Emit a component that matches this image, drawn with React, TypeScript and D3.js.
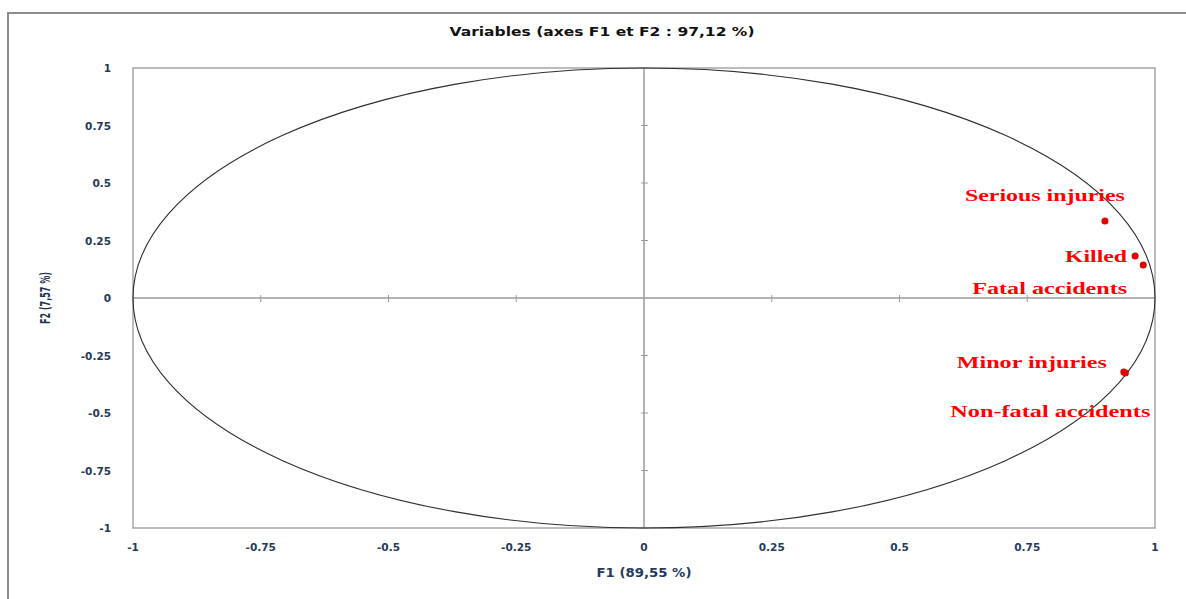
import React, { useEffect, useRef } from "react";
import * as d3 from "d3";

// variables projected on F1 / F2
const variables = ["Serious injuries", "Killed", "Fatal accidents", "Minor injuries", "Non-fatal accidents"];
const f1Values = [0.902, 0.961, 0.977, 0.939, 0.942];
const f2Values = [0.335, 0.183, 0.143, -0.322, -0.326];

// label placement relative to the point (px) and stretched widths
const labelDx = [20, -8, -16, -17, 25];
const labelDy = [-26, 0, 23, -10, 38];
const labelWidths = [160, 62, 155, 150, 200];

const xTicks = [-1, -0.75, -0.5, -0.25, 0, 0.25, 0.5, 0.75, 1];
const yTicks = [-1, -0.75, -0.5, -0.25, 0, 0.25, 0.5, 0.75, 1];

const title = "Variables (axes F1 et F2 : 97,12 %)";
const xTitle = "F1 (89,55 %)";
const yTitle = "F2 (7,57 %)";

export default function App() {
  const ref = useRef<SVGSVGElement>(null);

  useEffect(() => {
    const W = 1186, H = 599;
    const plot = { left: 133, right: 1155, top: 68, bottom: 528 };
    const svg = d3.select(ref.current);
    svg.selectAll("*").remove();

    const x = d3.scaleLinear().domain([-1, 1]).range([plot.left, plot.right]);
    const y = d3.scaleLinear().domain([-1, 1]).range([plot.bottom, plot.top]);

    svg.append("rect").attr("width", W).attr("height", H).attr("fill", "#fff");

    // outer frame (left and top only)
    svg.append("path")
      .attr("d", `M8,${H} L8,13 L${W},13`)
      .attr("fill", "none")
      .attr("stroke", "#8c8c8c")
      .attr("stroke-width", 2);

    // title
    svg.append("text")
      .attr("x", 602).attr("y", 36)
      .attr("text-anchor", "middle")
      .attr("font-family", "DejaVu Sans")
      .attr("font-weight", "bold")
      .attr("font-size", 13)
      .attr("fill", "#111")
      .attr("textLength", 305)
      .attr("lengthAdjust", "spacingAndGlyphs")
      .text(title);

    // plot area box
    svg.append("rect")
      .attr("x", plot.left).attr("y", plot.top)
      .attr("width", plot.right - plot.left).attr("height", plot.bottom - plot.top)
      .attr("fill", "none")
      .attr("stroke", "#a6a6a6")
      .attr("stroke-width", 1.5);

    // center axes
    svg.append("line")
      .attr("x1", x(-1)).attr("x2", x(1)).attr("y1", y(0)).attr("y2", y(0))
      .attr("stroke", "#9a9a9a").attr("stroke-width", 1.5);
    svg.append("line")
      .attr("x1", x(0)).attr("x2", x(0)).attr("y1", y(-1)).attr("y2", y(1))
      .attr("stroke", "#9a9a9a").attr("stroke-width", 1.5);

    // ticks crossing the center axes
    svg.append("g").selectAll("line").data(xTicks.filter(d => d !== 0)).join("line")
      .attr("x1", d => x(d)).attr("x2", d => x(d))
      .attr("y1", y(0) - 3).attr("y2", y(0) + 4)
      .attr("stroke", "#9a9a9a").attr("stroke-width", 1);
    svg.append("g").selectAll("line").data(yTicks.filter(d => d !== 0)).join("line")
      .attr("y1", d => y(d)).attr("y2", d => y(d))
      .attr("x1", x(0) - 3).attr("x2", x(0) + 4)
      .attr("stroke", "#9a9a9a").attr("stroke-width", 1);

    // correlation circle
    svg.append("ellipse")
      .attr("cx", x(0)).attr("cy", y(0))
      .attr("rx", x(1) - x(0)).attr("ry", y(0) - y(1))
      .attr("fill", "none")
      .attr("stroke", "#2e2e2e")
      .attr("stroke-width", 1.1);

    // tick labels
    const fmt = (d: number) => String(d);
    svg.append("g").selectAll("text").data(xTicks).join("text")
      .attr("x", d => x(d)).attr("y", 551)
      .attr("text-anchor", "middle")
      .attr("font-family", "DejaVu Sans").attr("font-weight", "bold")
      .attr("font-size", 10.5).attr("fill", "#233a5c")
      .text(fmt);
    svg.append("g").selectAll("text").data(yTicks).join("text")
      .attr("x", 111).attr("y", d => y(d) + 4)
      .attr("text-anchor", "end")
      .attr("font-family", "DejaVu Sans").attr("font-weight", "bold")
      .attr("font-size", 10.5).attr("fill", "#233a5c")
      .text(fmt);

    // axis titles
    svg.append("text")
      .attr("x", 644).attr("y", 577)
      .attr("text-anchor", "middle")
      .attr("font-family", "DejaVu Sans").attr("font-weight", "bold")
      .attr("font-size", 11.5).attr("fill", "#233a5c")
      .attr("textLength", 95).attr("lengthAdjust", "spacingAndGlyphs")
      .text(xTitle);
    svg.append("text")
      .attr("transform", `translate(50,${y(0)}) rotate(-90)`)
      .attr("text-anchor", "middle")
      .attr("font-family", "DejaVu Sans").attr("font-weight", "bold")
      .attr("font-size", 14).attr("fill", "#1e3352")
      .attr("textLength", 52).attr("lengthAdjust", "spacingAndGlyphs")
      .text(yTitle);

    // points
    const pts = variables.map((name, i) => ({ name, f1: f1Values[i], f2: f2Values[i], i }));
    svg.append("g").selectAll("circle").data(pts).join("circle")
      .attr("cx", d => x(d.f1)).attr("cy", d => y(d.f2))
      .attr("r", 3.5)
      .attr("fill", "#e00000");

    // labels
    svg.append("g").selectAll("text").data(pts).join("text")
      .attr("x", d => x(d.f1) + labelDx[d.i])
      .attr("y", d => y(d.f2) + labelDy[d.i] + 6)
      .attr("text-anchor", "end")
      .attr("font-family", "Liberation Serif")
      .attr("font-weight", "bold")
      .attr("font-size", 17)
      .attr("fill", "#ff0000")
      .attr("textLength", d => labelWidths[d.i])
      .attr("lengthAdjust", "spacingAndGlyphs")
      .text(d => d.name);
  }, []);

  return (
    <svg
      ref={ref}
      width={1186}
      height={599}
      style={{ position: "absolute", left: 0, top: 0, display: "block" }}
    />
  );
}
